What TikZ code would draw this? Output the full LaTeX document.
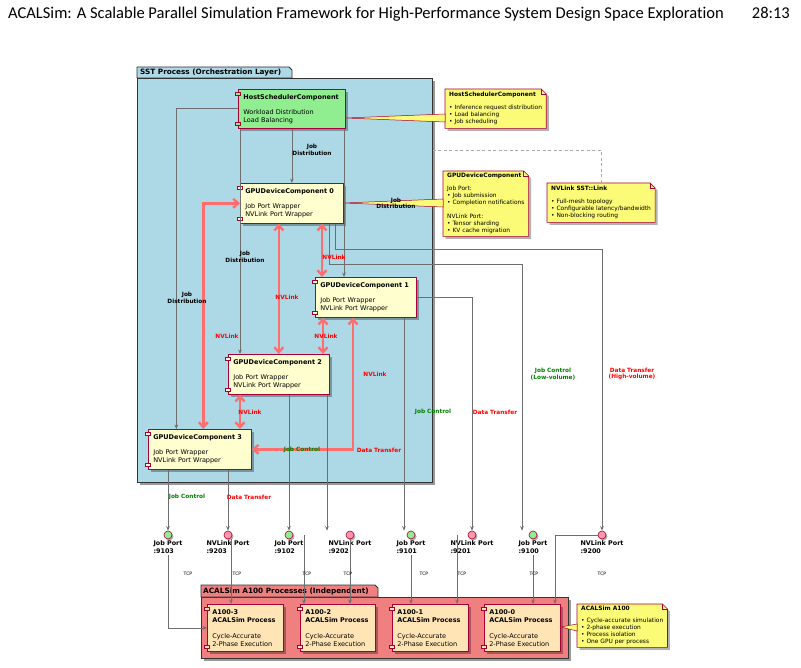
\documentclass[tikz,border=0pt]{standalone}
\usepackage{fontspec}
\setmainfont{Carlito}[Ligatures=NoCommon]
\newfontfamily\diafont{DejaVu Sans}
\usetikzlibrary{arrows.meta, positioning, calc, shadows, backgrounds}
\definecolor{umlred}{RGB}{168,0,54}
\definecolor{gpuivory}{RGB}{254,254,206}
\definecolor{hostgreen}{RGB}{144,238,144}
\definecolor{sstblue}{RGB}{173,216,230}
\definecolor{acalcoral}{RGB}{240,128,128}
\definecolor{procpeach}{RGB}{255,228,181}
\definecolor{noteyellow}{RGB}{251,251,119}
\definecolor{portpink}{RGB}{255,150,170}
\definecolor{nvred}{RGB}{255,110,110}
\definecolor{ctlgreen}{RGB}{0,128,0}
\definecolor{xferred}{RGB}{255,0,0}
\definecolor{wiregray}{RGB}{110,110,110}
\definecolor{dashgray}{RGB}{170,170,170}
\newcommand{\fsize}[2]{\fontsize{#1}{#2}\selectfont}
% yellow note with folded corner, drawn behind its text
\newcommand{\notebg}[1]{%
  \begin{scope}[on background layer]
    \fill[black, opacity=.3] ($(#1.north west)+(2.5,2.5)$) -- ($(#1.north east)+(-2.5,2.5)$)
      -- ($(#1.north east)+(2.5,7.5)$) -- ($(#1.south east)+(2.5,2.5)$) -- ($(#1.south west)+(2.5,2.5)$) -- cycle;
    \draw[umlred, fill=noteyellow, line width=.6pt] (#1.north west) -- ($(#1.north east)+(-5,0)$)
      -- ($(#1.north east)+(0,5)$) -- (#1.south east) -- (#1.south west) -- cycle;
    \draw[umlred, line width=.5pt] ($(#1.north east)+(-5,0)$) -- ++(0,5) -- ++(5,0);
  \end{scope}}

\begin{document}
\begin{tikzpicture}[x=1pt, y=-1pt, >={Stealth[length=4.5pt,width=3.6pt,inset=1.5pt]},
    comp/.style={draw=umlred, line width=0.7pt, fill=gpuivory, anchor=north west,
                 align=left, inner xsep=5pt, inner ysep=0pt, font=\diafont\fsize{6.5}{8},
                 execute at begin node={\hyphenpenalty=10000\relax},
                 drop shadow={shadow xshift=2.5pt, shadow yshift=-2.5pt, fill=black, opacity=.3}},
    proc/.style={comp, fill=procpeach},
    note/.style={anchor=north west, align=left, inner xsep=4pt, inner ysep=0pt,
                 font=\diafont\fsize{5.9}{7}},
    pkg/.style={draw=black!80, line width=0.9pt, anchor=north west, inner sep=0pt,
                drop shadow={shadow xshift=3pt, shadow yshift=-3pt, fill=black, opacity=.4}},
    pkgtab/.style={draw=black!80, line width=0.9pt},
    pkglbl/.style={anchor=west, inner sep=0pt, font=\diafont\bfseries\fsize{7.3}{8}},
    wire/.style={draw=wiregray, line width=0.7pt},
    nvlink/.style={draw=nvred, line width=2.4pt, >={Straight Barb[length=5pt,width=9pt]}, <->},
    wedge/.style={draw=umlred, fill=noteyellow, line width=.5pt},
    lbl/.style={align=center, inner sep=0pt, font=\diafont\bfseries\fsize{5.8}{6.6}},
    lblnv/.style={lbl, text=xferred},
    lblctl/.style={lbl, text=ctlgreen},
    lblxfer/.style={lbl, text=xferred},
    tcp/.style={inner sep=0pt, font=\diafont\fsize{4.6}{5}},
    port/.style={circle, draw=umlred, line width=.6pt, minimum size=8pt, inner sep=0pt,
                 drop shadow={shadow xshift=1.5pt, shadow yshift=-1.5pt, fill=black, opacity=.3}},
    jport/.style={port, fill=hostgreen},
    nport/.style={port, fill=portpink},
    plbl/.style={align=left, inner sep=1pt, font=\diafont\bfseries\fsize{6.4}{8}}]

  \useasboundingbox (0,0) rectangle (801,668);

  % page header
  \node[anchor=base west, inner sep=0pt, font=\fsize{16.5}{18}] (hdr) at (8,19)
    {ACALSim: A Scalable Parallel Simulation Framework for High-Performance System Design Space Exploration};
  \node[anchor=base east, inner sep=0pt, font=\fsize{16.5}{18}] (pg) at (790,19) {28:13};

  % packages
  \node[pkg, fill=sstblue, minimum width=295pt, minimum height=404pt] (sst) at (137,78) {};
  \draw[pkgtab, fill=sstblue] (sst.north west) -- ++(0,-11) -- ++(152,0) -- ++(3,3) -- ++(0,8) -- cycle;
  \node[pkglbl] (sstlbl) at (140,72.5) {SST Process (Orchestration Layer)};

  \node[pkg, fill=acalcoral, minimum width=367pt, minimum height=61pt] (acal) at (201,597) {};
  \draw[pkgtab, fill=acalcoral] (acal.north west) -- ++(0,-12) -- ++(174,0) -- ++(3,3) -- ++(0,9) -- cycle;
  \node[pkglbl] (acallbl) at (203,591) {ACALSim A100 Processes (Independent)};

  % components
  \node[comp, fill=hostgreen, minimum width=107pt, minimum height=39pt, text width=97pt] (host) at (238,89)
    {\textbf{HostSchedulerComponent}\\[7pt]Workload Distribution\\Load Balancing};
  \node[comp, minimum width=103pt, minimum height=40pt, text width=93pt] (gpu0) at (240,183)
    {\textbf{GPUDeviceComponent 0}\\[7pt]Job Port Wrapper\\NVLink Port Wrapper};
  \node[comp, minimum width=101pt, minimum height=40pt, text width=91pt] (gpu1) at (315,277)
    {\textbf{GPUDeviceComponent 1}\\[7pt]Job Port Wrapper\\NVLink Port Wrapper};
  \node[comp, minimum width=101pt, minimum height=40pt, text width=91pt] (gpu2) at (228,354)
    {\textbf{GPUDeviceComponent 2}\\[7pt]Job Port Wrapper\\NVLink Port Wrapper};
  \node[comp, minimum width=103pt, minimum height=40pt, text width=93pt] (gpu3) at (148,429)
    {\textbf{GPUDeviceComponent 3}\\[7pt]Job Port Wrapper\\NVLink Port Wrapper};

  \node[proc, minimum width=76pt, minimum height=47pt, text width=66pt] (a3) at (207,604)
    {\textbf{A100-3}\\\textbf{ACALSim Process}\\[8pt]Cycle-Accurate\\2-Phase Execution};
  \node[proc, minimum width=75pt, minimum height=47pt, text width=65pt] (a2) at (300,604)
    {\textbf{A100-2}\\\textbf{ACALSim Process}\\[8pt]Cycle-Accurate\\2-Phase Execution};
  \node[proc, minimum width=76pt, minimum height=47pt, text width=66pt] (a1) at (392,604)
    {\textbf{A100-1}\\\textbf{ACALSim Process}\\[8pt]Cycle-Accurate\\2-Phase Execution};
  \node[proc, minimum width=76pt, minimum height=47pt, text width=66pt] (a0) at (484,604)
    {\textbf{A100-0}\\\textbf{ACALSim Process}\\[8pt]Cycle-Accurate\\2-Phase Execution};

  % component icons
  \foreach \n/\c in {host/hostgreen, gpu0/gpuivory, gpu1/gpuivory, gpu2/gpuivory, gpu3/gpuivory,
                     a3/procpeach, a2/procpeach, a1/procpeach, a0/procpeach} {
    \draw[umlred, fill=\c, line width=.5pt] ($(\n.north west)+(-2.5,3)$) rectangle ++(5,3);
    \draw[umlred, fill=\c, line width=.5pt] ($(\n.south west)+(-2.5,-6)$) rectangle ++(5,3);
  }

  % notes
  \node[note, minimum height=39pt] (nhost) at (445,89)
    {\textbf{HostSchedulerComponent}\\[6pt]• Inference request distribution\\• Load balancing\\• Job scheduling};
  \notebg{nhost}
  \node[note, minimum height=65pt] (ngpu) at (443,171)
    {\textbf{GPUDeviceComponent}\\[6pt]Job Port:\\• Job submission\\• Completion notifications\\[7pt]%
     NVLink Port:\\• Tensor sharding\\• KV cache migration};
  \notebg{ngpu}
  \node[note, minimum height=39pt] (nlink) at (547,183)
    {\textbf{NVLink SST::Link}\\[6pt]• Full-mesh topology\\• Configurable latency/bandwidth\\• Non-blocking routing};
  \notebg{nlink}
  \node[note, minimum height=43pt] (na100) at (577,604)
    {\textbf{ACALSim A100}\\[5pt]• Cycle-accurate simulation\\• 2-phase execution\\• Process isolation\\• One GPU per process};
  \notebg{na100}

  \draw[wedge] (host.east |- 0,118) -- (nhost.west |- 0,114) -- (nhost.west |- 0,122) -- cycle;
  \draw[wedge] (gpu0.east |- 0,203) -- (ngpu.west |- 0,199) -- (ngpu.west |- 0,207) -- cycle;
  \draw[wedge] (a0.east |- 0,627) -- (na100.west |- 0,624) -- (na100.west |- 0,631) -- cycle;
  \draw[dashgray, line width=.8pt, dash pattern=on 3pt off 2.5pt] (sst.east |- 0,150) -| (nlink.north);

  % ports
  \node[jport, label={[plbl]below:{Job Port\\:9103}}] (p9103) at (168,535) {};
  \node[nport, label={[plbl]below:{NVLink Port\\:9203}}] (p9203) at (228,535) {};
  \node[jport, label={[plbl]below:{Job Port\\:9102}}] (p9102) at (289,535) {};
  \node[nport, label={[plbl]below:{NVLink Port\\:9202}}] (p9202) at (350,535) {};
  \node[jport, label={[plbl]below:{Job Port\\:9101}}] (p9101) at (411,535) {};
  \node[nport, label={[plbl]below:{NVLink Port\\:9201}}] (p9201) at (472,535) {};
  \node[jport, label={[plbl]below:{Job Port\\:9100}}] (p9100) at (533,535) {};
  \node[nport, label={[plbl]below:{NVLink Port\\:9200}}] (p9200) at (602,535) {};

  % job distribution
  \draw[wire, ->] (gpu0.north |- host.south) -- (gpu0.north);
  \draw[wire, ->] (host.west) -| ([xshift=-23.5pt]gpu3.north);
  \draw[wire, ->] (240,0 |- host.south) -- (240,0 |- gpu2.north);
  \draw[wire, ->] (344,0 |- host.south) -- (344,0 |- gpu1.north);

  % nvlink mesh
  \draw[nvlink] (gpu0.west) -| ([xshift=3.5pt]gpu3.north);
  \draw[nvlink] (gpu2.north |- gpu0.south) -- (gpu2.north);
  \draw[nvlink] (322,0 |- gpu0.south) -- (322,0 |- gpu1.north);
  \draw[nvlink] (323,0 |- gpu1.south) -- (323,0 |- gpu2.north);
  \draw[nvlink] (240,0 |- gpu2.south) -- (240,0 |- gpu3.north);
  \draw[nvlink] (353,0 |- gpu1.south) |- (gpu3.east);

  % gpus to ports
  \draw[wire, ->] (329,0 |- gpu0.south) -- (329,264) -| ([xshift=-11pt]p9100.north);
  \draw[wire, ->] (335,0 |- gpu0.south) -- (335,249) -| (p9200.north);
  \draw[wire, ->] (404,0 |- gpu1.south) -- ([xshift=-7pt]p9101.north);
  \draw[wire, ->] (gpu1.east) -| (p9201.north);
  \draw[wire, ->] (p9102.north |- gpu2.south) -- (p9102.north);
  \draw[wire, ->] (327,0 |- gpu2.south) -- ([xshift=-23pt]p9202.north);
  \draw[wire, ->] (p9103.north |- gpu3.south) -- (p9103.north);
  \draw[wire, ->] (p9203.north |- gpu3.south) -- (p9203.north);

  % ports to processes
  \coordinate (s9102) at (304,535);
  \coordinate (s9201) at (457,535);
  \draw[wire, ->] ([yshift=-16pt]p9103.south) |- (a3.west);
  \draw[wire, ->] (231,0 |- p9203.south) -- (231,0 |- a3.north);
  \draw[wire, ->] (s9102) -- (s9102 |- a2.north);
  \draw[wire, ->] (p9202.south) -- (p9202.south |- a2.north);
  \draw[wire, ->] ([yshift=-16pt]p9101.south) -- (p9101.south |- a1.north);
  \draw[wire, ->] (s9201) -- (s9201 |- a1.north);
  \draw[wire, ->] ([yshift=-16pt]p9100.south) -- (p9100.south |- a0.north);
  \draw[wire, ->] (p9200.west) -| (555,0 |- a0.north);

  % connector labels
  \node[lbl] at (312,150) {Job\\Distribution};
  \node[lbl] at (187,298) {Job\\Distribution};
  \node[lbl] at (245,257) {Job\\Distribution};
  \node[lbl] at (396,203.5) {Job\\Distribution};
  \node[lblnv] at (227,336) {NVLink};
  \node[lblnv] at (287,297) {NVLink};
  \node[lblnv] at (334,257) {NVLink};
  \node[lblnv] at (326,336) {NVLink};
  \node[lblnv] at (250,412) {NVLink};
  \node[lblnv] at (375,374) {NVLink};
  \node[lblctl] at (302,450) {Job Control};
  \node[lblxfer] at (379,450) {Data Transfer};
  \node[lblctl] at (187,497) {Job Control};
  \node[lblxfer] at (249,497) {Data Transfer};
  \node[lblctl] at (433,412) {Job Control};
  \node[lblxfer] at (495,412) {Data Transfer};
  \node[lblctl] at (553,374) {Job Control\\(Low-volume)};
  \node[lblxfer] at (632,374) {Data Transfer\\(High-volume)};
  \node[tcp] at (188,574) {TCP};
  \node[tcp] at (237,574) {TCP};
  \node[tcp] at (307,574) {TCP};
  \node[tcp] at (348,574) {TCP};
  \node[tcp] at (424,574) {TCP};
  \node[tcp] at (462,574) {TCP};
  \node[tcp] at (534,574) {TCP};
  \node[tcp] at (602,574) {TCP};
\end{tikzpicture}
\end{document}
